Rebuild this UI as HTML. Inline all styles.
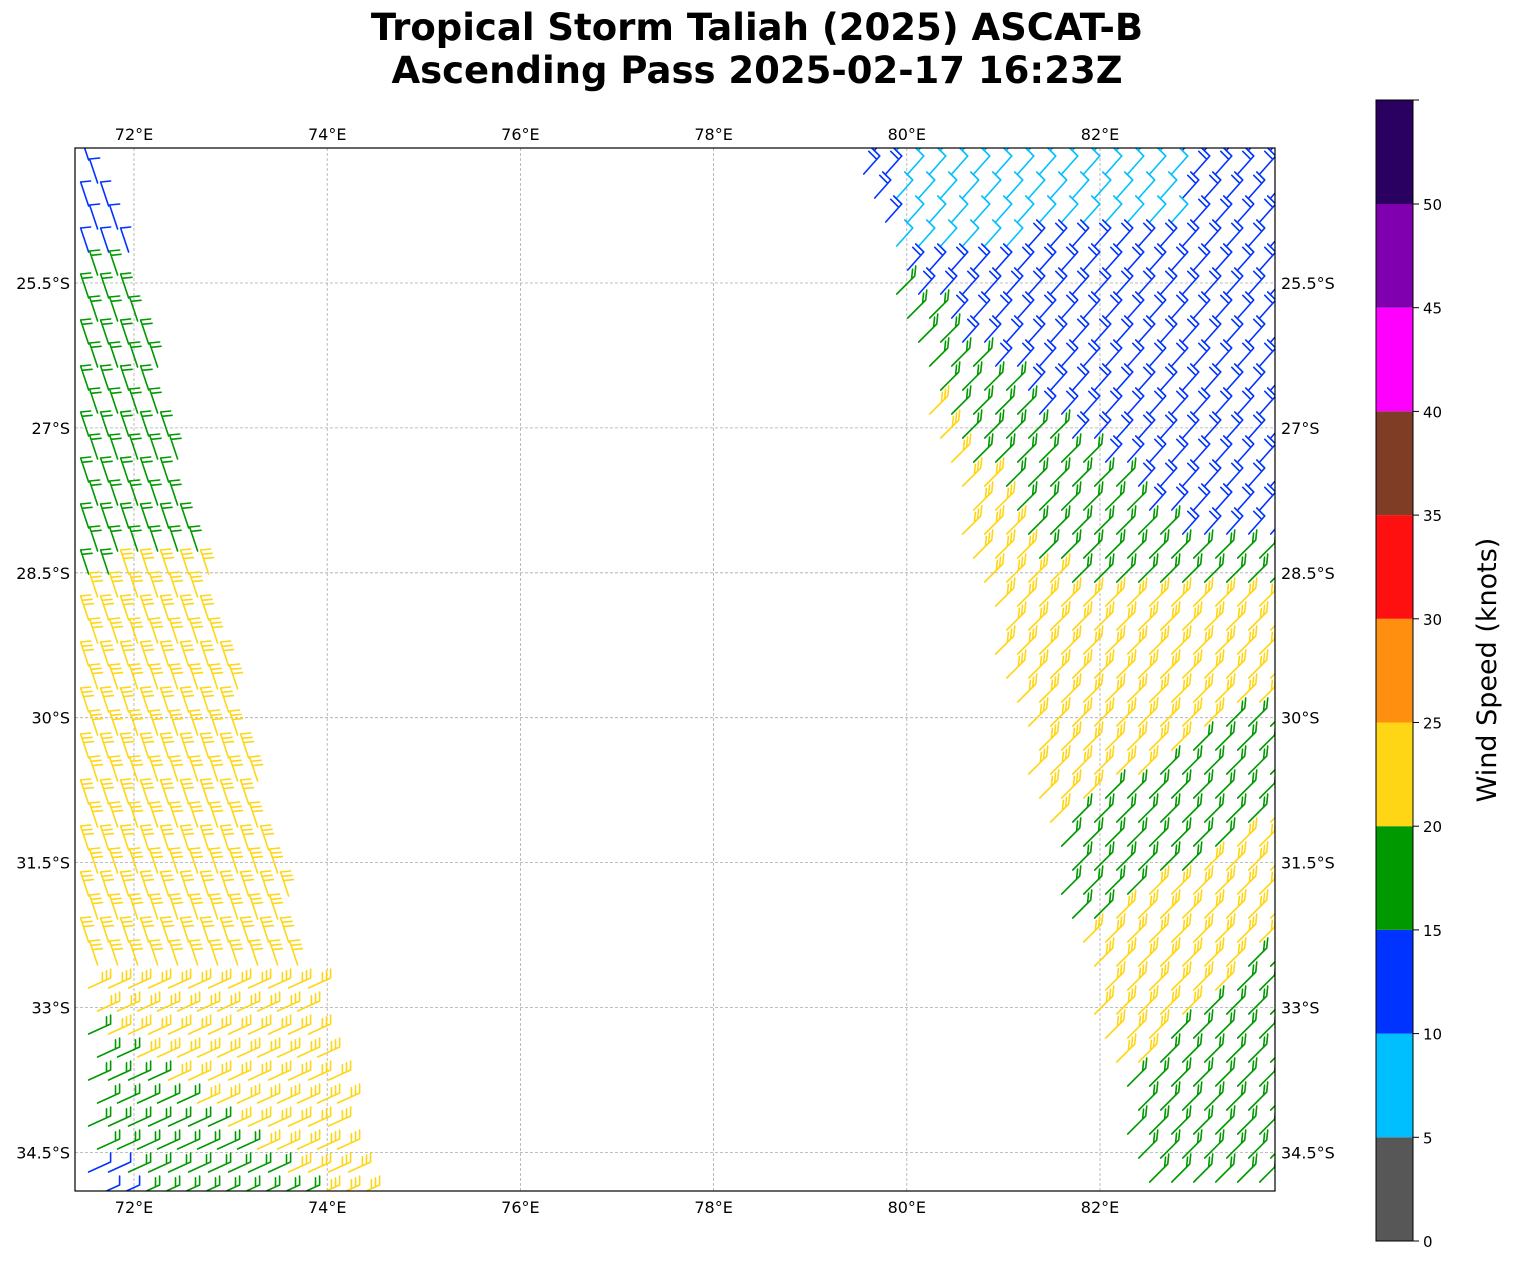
<!DOCTYPE html>
<html><head><meta charset="utf-8"><style>
body{margin:0;background:#fff;width:1513px;height:1264px;overflow:hidden;font-family:"DejaVu Sans","Liberation Sans",sans-serif}
</style></head><body>
<svg id="s" width="1513" height="1264" xmlns="http://www.w3.org/2000/svg" font-family="DejaVu Sans, Liberation Sans, sans-serif">
<text x="757" y="40" font-size="37" font-weight="bold" text-anchor="middle">Tropical Storm Taliah (2025) ASCAT-B</text>
<text x="757" y="83" font-size="37" font-weight="bold" text-anchor="middle">Ascending Pass 2025-02-17 16:23Z</text>
<defs><clipPath id="c"><rect x="75" y="148" width="1200" height="1043"/></clipPath></defs>
<g id="grid" stroke="#aaa" stroke-width="0.8" stroke-dasharray="3,2"></g>
<g id="barbs" clip-path="url(#c)" fill="none" stroke-width="1.6" stroke-linecap="round"></g>
<rect x="75" y="148" width="1200" height="1043" fill="none" stroke="#000" stroke-width="1.2"/>
<g id="labels" font-size="16"></g>
<g id="cb"></g>
<text transform="translate(1496,670) rotate(-90)" font-size="27" text-anchor="middle">Wind Speed (knots)</text>
</svg>
<script>
const NS="http://www.w3.org/2000/svg";
function el(p,t,a,txt){const e=document.createElementNS(NS,t);for(const k in a)e.setAttribute(k,a[k]);if(txt!=null)e.textContent=txt;p.appendChild(e);return e;}
const grid=document.getElementById('grid'),lab=document.getElementById('labels'),cb=document.getElementById('cb'),B=document.getElementById('barbs');
const lons=[72,74,76,78,80,82];
lons.forEach(l=>{const x=134+(l-72)*96.6;el(grid,'line',{x1:x,y1:148,x2:x,y2:1191});
 el(lab,'text',{x:x,y:140,'text-anchor':'middle'},l+'°E');el(lab,'text',{x:x,y:1213,'text-anchor':'middle'},l+'°E');});
['25.5','27','28.5','30','31.5','33','34.5'].forEach((l,i)=>{const y=283+i*144.9;el(grid,'line',{x1:75,y1:y,x2:1275,y2:y});
 el(lab,'text',{x:70,y:y+6,'text-anchor':'end'},l+'°S');el(lab,'text',{x:1281,y:y+6},l+'°S');});
const cols=['#575757','#00bfff','#0033ff','#009900','#ffd616','#ff8f0f','#ff1010','#7f3d25','#ff00ff','#8000b0','#2a0060'];
const h=103.7;
cols.forEach((c,i)=>el(cb,'rect',{x:1376,y:1241-(i+1)*h,width:37,height:h,fill:c}));
el(cb,'rect',{x:1376,y:100,width:37,height:1141,fill:'none',stroke:'#000','stroke-width':1});
for(let i=0;i<=10;i++){const y=1241-i*h;el(cb,'line',{x1:1413,y1:y,x2:1419,y2:y,stroke:'#000'});el(cb,'text',{x:1423,y:y+6,'font-size':15},String(i*5));}
el(cb,'line',{x1:1413,y1:100,x2:1419,y2:100,stroke:'#000'});
const C={cy:'#00bfff',bl:'#0033ff',gr:'#009900',ye:'#ffd616'};
function barb(x,y,dx,dy,fx,fy,n,col){
 let d=`M${x} ${y}L${x+dx} ${y+dy}`;
 const L=Math.hypot(dx,dy),ux=dx/L,uy=dy/L;
 for(let i=0;i<n;i++){const bx=x+dx-ux*i*4.5,by=y+dy-uy*i*4.5;d+=`M${bx} ${by}l${fx} ${fy}`;}
 el(B,'path',{d:d,stroke:col});
}
// left swath
for(let y=160;y<1205;y+=23){
 const re=110+(y-150)*0.245;
 for(let k=0;k<20;k++){
  const x=80+k*20+((y/23)%2)*9;
  if(x>re-4)continue;
  let c;
  if(y<275)c='bl';else if(y<590-(x-75)*0.3)c='gr';else c='ye';
  if(y>1020&&x<75+(y-1020)*1.3)c='gr';
  if(y>1155&&x<125)c='bl';
  const n=c==='bl'?1:(c==='gr'?2:3);
  if(y>980) barb(x,y,22,-10,0,-9,n,C[c]); else barb(x,y,-8,-24,10,-1,n,C[c]);
 }
}
// right swath
for(let y=150;y<1200;y+=24){
 for(let k=0;k<22;k++){
  const x=850+k*22+((y/24)%2)*11;
  if(x<855+(y-150)*0.274||x>1272)continue;
  let c;
  const yb=Math.min(290+(x-900)*0.9,540), yg=Math.min(400+(x-930)*1.5,600);
  if(y<yb){c=(x>893&&x<1180&&y<265-(x-900)*0.15&&((k+y/24)%3!==0))?'cy':'bl';}
  else if(y<yg)c='gr';
  else{const cc=860-(x-1100)*0.6;c=Math.abs(y-cc)<60?'gr':'ye';if(y>1070-(x-1130)*0.9)c='gr';}
  if(c==='bl'||c==='cy') barb(x,y,16,-18,-8,-8,c==='cy'?1:2,C[c]); else barb(x,y,18,-18,1,-10,c==='ye'?3:2,C[c]);
 }
}
</script>
</body></html>
